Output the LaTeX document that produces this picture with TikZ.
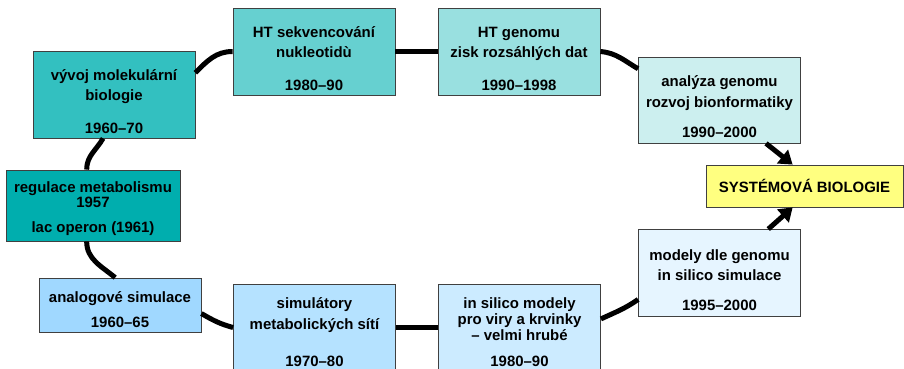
\documentclass[tikz,border=0pt]{standalone}
\usepackage{fontspec}
\setmainfont{Liberation Sans}
\usetikzlibrary{arrows.meta}
\definecolor{teal0}{RGB}{0,174,174}
\definecolor{teal1}{RGB}{51,192,192}
\definecolor{teal2}{RGB}{102,208,208}
\definecolor{teal3}{RGB}{153,224,224}
\definecolor{teal4}{RGB}{204,239,239}
\definecolor{sky1}{RGB}{160,216,255}
\definecolor{sky2}{RGB}{181,226,255}
\definecolor{sky3}{RGB}{204,235,255}
\definecolor{sky4}{RGB}{230,245,255}
\definecolor{goalyellow}{RGB}{255,255,128}
% taller first line, so that the text sits lower in its box
\newcommand{\toproom}[1]{\rule{0pt}{#1}}

\begin{document}
\begin{tikzpicture}[x=1bp, y=1bp,
  stage/.style={draw=black!75, line width=0.8bp, align=center, inner sep=2bp,
    minimum width=162bp, minimum height=87bp, font=\fontsize{15}{21}\selectfont\bfseries},
  link/.style={line width=5bp},
  goal/.style={link, -{Triangle[length=13bp,width=17bp]}}]
  \useasboundingbox (0,0) rectangle (904,368);

  % upper row
  \node[stage, fill=teal1] (vyvoj) at (114,273.5) {\toproom{25bp}vývoj molekulární\\biologie\\[12bp]1960–70};
  \node[stage, fill=teal2] (htsekv) at (314,316.5) {\toproom{25bp}HT sekvencování\\nukleotidù\\[12bp]1980–90};
  \node[stage, fill=teal3] (htgenom) at (519,316.5) {\toproom{25bp}HT genomu\\zisk rozsáhlých dat\\[12bp]1990–1998};
  \node[stage, fill=teal4, minimum height=86bp] (analyza) at (719.5,268) {\toproom{24bp}analýza genomu\\rozvoj bionformatiky\\[9bp]1990–2000};

  % goal
  \node[stage, fill=goalyellow, minimum width=197bp, minimum height=42bp] (system) at (804.5,182) {SYSTÉMOVÁ BIOLOGIE};

  % left column
  \node[stage, fill=teal0, minimum width=174bp, minimum height=71bp,
    font=\fontsize{15}{15}\selectfont\bfseries] (regulace) at (93,162.5) {\toproom{17.5bp}regulace metabolismu\\1957\\[10bp]lac operon (1961)};
  \node[stage, fill=sky1, minimum height=54bp] (analog) at (120,63) {\toproom{19.5bp}analogové simulace\\[4bp]1960–65};

  % lower row
  \node[stage, fill=sky2] (simul) at (314.5,40.5) {\toproom{19.5bp}simulátory\\metabolických sítí\\[16bp]1970–80};
  \node[stage, fill=sky3, font=\fontsize{15}{16}\selectfont\bfseries] (insilico) at (519.5,40.5) {\toproom{20bp}in silico modely\\pro viry a krvinky\\– velmi hrubé\\[10bp]1980–90};
  \node[stage, fill=sky4] (modely) at (719.5,95) {\toproom{25bp}modely dle genomu\\in silico simulace\\[9bp]1995–2000};

  % connectors
  \draw[link] (vyvoj.15) to[out=45,in=180] (htsekv.west);
  \draw[link] (htsekv.east) -- (htgenom.west);
  \draw[link] (htgenom.east) to[out=-5,in=150] (analyza.159);
  \draw[link] (vyvoj.-104) to[out=-120,in=90] (regulace.100);
  \draw[link] (regulace.-100) to[out=-90,in=140] (analog.100);
  \draw[link] (analog.-6) to[out=-30,in=165] (simul.west);
  \draw[link] (simul.east) -- (insilico.west);
  \draw[link] (insilico.6) to[out=25,in=-145] (modely.198);
  \draw[goal] (analyza.-43) -- (system.119);
  \draw[goal] (modely.42) -- (system.-119);
\end{tikzpicture}
\end{document}
